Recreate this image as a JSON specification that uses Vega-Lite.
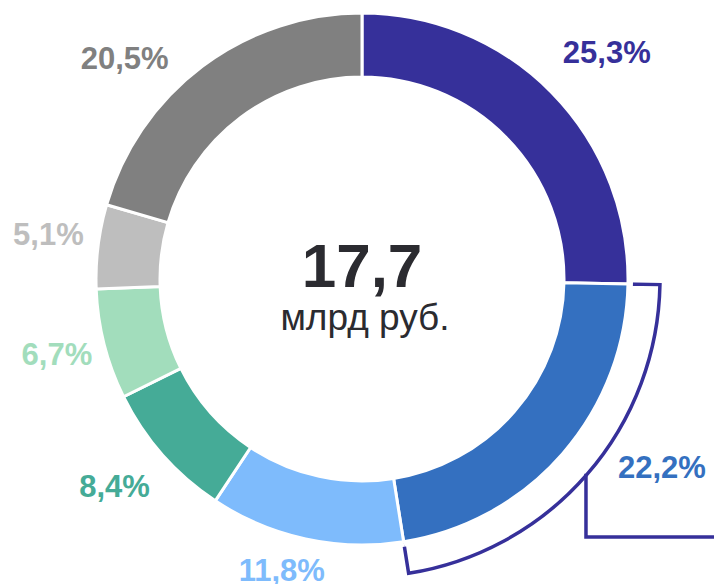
{
  "$schema": "https://vega.github.io/schema/vega-lite/v6.json",
  "width": 704,
  "height": 558,
  "autosize": {"type": "none"},
  "padding": {"left": 10, "top": 0, "right": 0, "bottom": 26},
  "background": "white",
  "config": {"view": {"stroke": null}, "font": "Liberation Sans"},
  "datasets": {
    "shares": [
      {"segment": "s1", "share": 25.3, "label": "25,3%", "order": 1},
      {"segment": "s2", "share": 22.2, "label": "22,2%", "order": 2},
      {"segment": "s3", "share": 11.8, "label": "11,8%", "order": 3},
      {"segment": "s4", "share": 8.4, "label": "8,4%", "order": 4},
      {"segment": "s5", "share": 6.7, "label": "6,7%", "order": 5},
      {"segment": "s6", "share": 5.1, "label": "5,1%", "order": 6},
      {"segment": "s7", "share": 20.5, "label": "20,5%", "order": 7}
    ],
    "callout": [
      {"px": 0.842, "py": -0.732, "k": 1},
      {"px": 0.842, "py": -0.970, "k": 2},
      {"px": 1.34, "py": -0.970, "k": 3}
    ],
    "center": [{"total": "17,7", "unit": "млрд руб."}]
  },
  "layer": [
    {
      "data": {"name": "shares"},
      "mark": {"type": "arc", "radius": 298, "radius2": 262, "filled": false, "stroke": "#36309A", "strokeWidth": 3.5, "strokeJoin": "miter"},
      "encoding": {
        "theta": {"field": "share", "type": "quantitative", "stack": true},
        "order": {"field": "order"},
        "strokeOpacity": {"condition": {"test": "datum.segment === 's2'", "value": 1}, "value": 0}
      }
    },
    {
      "data": {"name": "shares"},
      "mark": {"type": "arc", "radius": 271, "radius2": 262, "fill": "white", "strokeWidth": 0},
      "encoding": {
        "theta": {"field": "share", "type": "quantitative", "stack": true},
        "order": {"field": "order"}
      }
    },
    {
      "data": {"name": "shares"},
      "mark": {"type": "arc", "radius": 266, "radius2": 202, "stroke": "white", "strokeWidth": 3},
      "encoding": {
        "theta": {"field": "share", "type": "quantitative", "stack": true},
        "order": {"field": "order"},
        "color": {
          "field": "segment", "type": "nominal", "legend": null,
          "scale": {"domain": ["s1", "s2", "s3", "s4", "s5", "s6", "s7"],
                    "range": ["#36309A", "#3470C0", "#7EBBFC", "#45AB97", "#A2DDBC", "#BEBEBE", "#808080"]}
        }
      }
    },
    {
      "data": {"name": "callout"},
      "mark": {"type": "line", "stroke": "#36309A", "strokeWidth": 3.5, "strokeJoin": "miter", "clip": false},
      "encoding": {
        "x": {"field": "px", "type": "quantitative", "axis": null, "scale": {"domain": [-1.3233, 1.3233], "nice": false, "zero": false}},
        "y": {"field": "py", "type": "quantitative", "axis": null, "scale": {"domain": [-1.0489, 1.0489], "nice": false, "zero": false}},
        "order": {"field": "k"}
      }
    },
    {
      "data": {"name": "shares"},
      "mark": {"type": "text", "radius": 322, "fontSize": 31, "fontWeight": "bold", "dx": 15, "dy": 1},
      "encoding": {
        "theta": {"field": "share", "type": "quantitative", "stack": true},
        "order": {"field": "order"},
        "text": {"condition": {"test": "datum.segment === 's1'", "field": "label"}, "value": ""},
        "color": {"field": "segment", "type": "nominal", "legend": null}
      }
    },
    {
      "data": {"name": "shares"},
      "mark": {"type": "text", "radius": 322, "fontSize": 31, "fontWeight": "bold", "dx": 57, "dy": -21},
      "encoding": {
        "theta": {"field": "share", "type": "quantitative", "stack": true},
        "order": {"field": "order"},
        "text": {"condition": {"test": "datum.segment === 's2'", "field": "label"}, "value": ""},
        "color": {"field": "segment", "type": "nominal", "legend": null}
      }
    },
    {
      "data": {"name": "shares"},
      "mark": {"type": "text", "radius": 322, "fontSize": 31, "fontWeight": "bold", "dx": -12, "dy": -22},
      "encoding": {
        "theta": {"field": "share", "type": "quantitative", "stack": true},
        "order": {"field": "order"},
        "text": {"condition": {"test": "datum.segment === 's3'", "field": "label"}, "value": ""},
        "color": {"field": "segment", "type": "nominal", "legend": null}
      }
    },
    {
      "data": {"name": "shares"},
      "mark": {"type": "text", "radius": 322, "fontSize": 31, "fontWeight": "bold", "dx": -6, "dy": -4},
      "encoding": {
        "theta": {"field": "share", "type": "quantitative", "stack": true},
        "order": {"field": "order"},
        "text": {"condition": {"test": "datum.segment === 's4'", "field": "label"}, "value": ""},
        "color": {"field": "segment", "type": "nominal", "legend": null}
      }
    },
    {
      "data": {"name": "shares"},
      "mark": {"type": "text", "radius": 322, "fontSize": 31, "fontWeight": "bold", "dx": 7, "dy": -2},
      "encoding": {
        "theta": {"field": "share", "type": "quantitative", "stack": true},
        "order": {"field": "order"},
        "text": {"condition": {"test": "datum.segment === 's5'", "field": "label"}, "value": ""},
        "color": {"field": "segment", "type": "nominal", "legend": null}
      }
    },
    {
      "data": {"name": "shares"},
      "mark": {"type": "text", "radius": 322, "fontSize": 31, "fontWeight": "bold", "dx": 6, "dy": -4},
      "encoding": {
        "theta": {"field": "share", "type": "quantitative", "stack": true},
        "order": {"field": "order"},
        "text": {"condition": {"test": "datum.segment === 's6'", "field": "label"}, "value": ""},
        "color": {"field": "segment", "type": "nominal", "legend": null}
      }
    },
    {
      "data": {"name": "shares"},
      "mark": {"type": "text", "radius": 322, "fontSize": 31, "fontWeight": "bold", "dx": -44, "dy": 38},
      "encoding": {
        "theta": {"field": "share", "type": "quantitative", "stack": true},
        "order": {"field": "order"},
        "text": {"condition": {"test": "datum.segment === 's7'", "field": "label"}, "value": ""},
        "color": {"field": "segment", "type": "nominal", "legend": null}
      }
    },
    {
      "data": {"name": "center"},
      "mark": {"type": "text", "fontSize": 62, "fontWeight": "bold", "baseline": "alphabetic", "dy": 8, "color": "#2B2B30"},
      "encoding": {"text": {"field": "total"}}
    },
    {
      "data": {"name": "center"},
      "mark": {"type": "text", "fontSize": 37, "baseline": "alphabetic", "dy": 51, "dx": 3, "color": "#2B2B30"},
      "encoding": {"text": {"field": "unit"}}
    }
  ]
}
